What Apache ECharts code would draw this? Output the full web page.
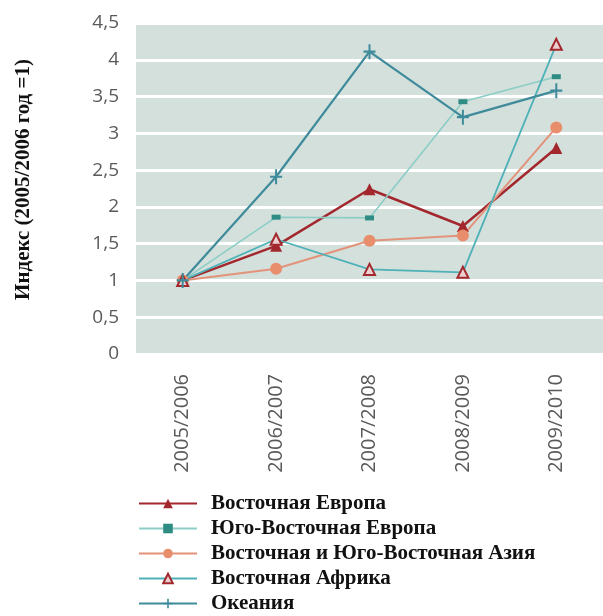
<!DOCTYPE html>
<html>
<head>
<meta charset="utf-8">
<script src="https://cdn.jsdelivr.net/npm/echarts@6/dist/echarts.min.js"></script>
<style>
  html, body { margin: 0; padding: 0; background: #ffffff; }
  #chart { width: 603px; height: 616px; }
</style>
</head>
<body>
<div id="chart"></div>
<script>
// Seasons on the horizontal axis
const seasons = ['2005/2006', '2006/2007', '2007/2008', '2008/2009', '2009/2010'];

// Index values per region (2005/2006 = 1)
const easternEurope      = [1, 1.47, 2.24, 1.74, 2.80];
const southEasternEurope = [1, 1.86, 1.85, 3.43, 3.77];
const eastSoutheastAsia  = [1, 1.16, 1.54, 1.61, 3.08];
const easternAfrica      = [1, 1.56, 1.15, 1.11, 4.21];
const oceania            = [1, 2.41, 4.11, 3.22, 3.58];

// Series names as shown in the legend
const seriesNames = [
  'Восточная Европа',
  'Юго-Восточная Европа',
  'Восточная и Юго-Восточная Азия',
  'Восточная Африка',
  'Океания'
];

// Value axis ticks
const yMin = 0, yMax = 4.5, yStep = 0.5;

const plusPath = 'path://M5,0H7V6H12V8H7V14H5V8H0V6H5Z';

const chart = echarts.init(document.getElementById('chart'), null, { renderer: 'canvas' });

function lineSeries(name, data, opts) {
  return Object.assign({
    name: name,
    type: 'line',
    data: data,
    showAllSymbol: true,
    z: 3
  }, opts);
}

// One legend row per series, stacked under the plot
const legendRowTop = 493, legendRowStep = 25;
const legends = seriesNames.map((name, i) => ({
  orient: 'vertical',
  left: 138,
  top: legendRowTop + i * legendRowStep,
  padding: 0,
  itemWidth: 58,
  itemHeight: 12,
  data: [name],
  selectedMode: false,
  textStyle: {
    fontFamily: 'Liberation Serif',
    fontWeight: 'bold',
    fontSize: 21,
    color: '#111111',
    padding: [0, 0, 0, 9]
  }
}));

const option = {
  animation: false,
  backgroundColor: '#ffffff',
  grid: {
    show: true,
    left: 136,
    top: 23,
    width: 475,
    height: 331,
    backgroundColor: '#d3e0dc',
    borderWidth: 0,
    containLabel: false
  },
  xAxis: {
    type: 'category',
    data: seasons,
    boundaryGap: true,
    axisLine: { show: false },
    axisTick: { show: false },
    axisLabel: {
      rotate: 90,
      margin: 20,
      color: '#5a5a5a',
      fontFamily: 'Open Sans',
      fontSize: 20
    },
    splitLine: { show: false }
  },
  yAxis: {
    type: 'value',
    min: yMin,
    max: yMax,
    interval: yStep,
    axisLine: { show: false },
    axisTick: { show: false },
    axisLabel: {
      margin: 17,
      color: '#5a5a5a',
      fontFamily: 'Open Sans',
      fontSize: 19,
      formatter: v => String(v).replace('.', ',')
    },
    splitLine: { show: true, lineStyle: { color: '#ffffff', width: 3 } },
    name: 'Индекс (2005/2006 год =1)',
    nameLocation: 'middle',
    nameGap: 102,
    nameRotate: 90,
    nameTextStyle: {
      fontFamily: 'Liberation Serif',
      fontWeight: 'bold',
      fontSize: 21,
      color: '#111111',
      padding: [0, 0, 0, 18]
    }
  },
  legend: legends,
  series: [
    lineSeries(seriesNames[0], easternEurope, {
      symbol: 'triangle',
      symbolSize: 12,
      lineStyle: { color: '#a3282e', width: 2.5 },
      itemStyle: { color: '#a3282e' }
    }),
    lineSeries(seriesNames[1], southEasternEurope, {
      symbol: 'rect',
      symbolSize: [9, 5],
      lineStyle: { color: '#8ccdc6', width: 1.6 },
      itemStyle: { color: '#2f8c84' }
    }),
    lineSeries(seriesNames[2], eastSoutheastAsia, {
      symbol: 'circle',
      symbolSize: 12,
      lineStyle: { color: '#e2937a', width: 2 },
      itemStyle: { color: '#e88e6c' }
    }),
    lineSeries(seriesNames[3], easternAfrica, {
      symbol: 'triangle',
      symbolSize: 11,
      lineStyle: { color: '#4fb1b8', width: 1.8 },
      itemStyle: { color: '#ecd0d0', borderColor: '#a3282e', borderWidth: 2 }
    }),
    lineSeries(seriesNames[4], oceania, {
      symbol: plusPath,
      symbolSize: [12, 15],
      lineStyle: { color: '#3f8b9b', width: 2.2 },
      itemStyle: { color: '#3f8b9b' }
    })
  ]
};

chart.setOption(option);
</script>
</body>
</html>
